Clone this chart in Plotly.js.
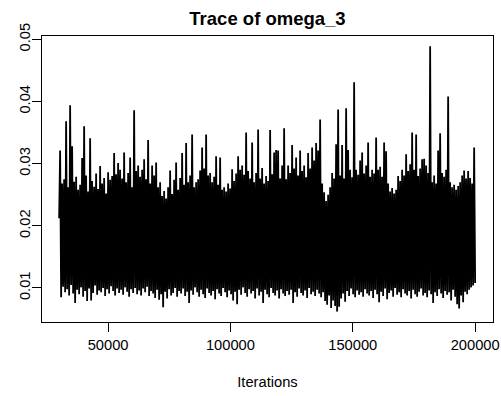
<!DOCTYPE html>
<html>
<head>
<meta charset="utf-8">
<script src="https://cdn.plot.ly/plotly-3.0.1.min.js"></script>
<style>html,body{margin:0;padding:0;background:#fff;}#chart{width:501px;height:396px;}</style>
</head>
<body>
<div id="chart"></div>
<script>
// MCMC trace of omega_3, samples (upper / lower excursions in order)
const chartTitle = "Trace of omega_3";
const xAxisTitle = "Iterations";
const iterStart = 30000;
const iterEnd = 200000;
const xTickVals = [50000, 100000, 150000, 200000];
const xTickText = ["50000", "100000", "150000", "200000"];
const yTickVals = [0.01, 0.02, 0.03, 0.04, 0.05];
const yTickText = ["0.01", "0.02", "0.03", "0.04", "0.05"];

const omega3 = [0.0212,
0.0321,0.0085, 0.0268,0.0102, 0.0275,0.0093, 0.0368,0.0098, 0.0262,0.0088, 0.0394,0.0105, 0.0328,0.0091, 0.0271,0.0076, 0.0279,0.0097, 0.0258,0.0090,
0.0266,0.0101, 0.0309,0.0086, 0.0360,0.0095, 0.0281,0.0079, 0.0255,0.0099, 0.0341,0.0080, 0.0272,0.0092, 0.0263,0.0104, 0.0284,0.0089, 0.0259,0.0096,
0.0296,0.0093, 0.0268,0.0100, 0.0277,0.0087, 0.0252,0.0098, 0.0286,0.0091, 0.0274,0.0103, 0.0280,0.0095, 0.0317,0.0088, 0.0283,0.0099, 0.0301,0.0092,
0.0290,0.0097, 0.0276,0.0089, 0.0318,0.0101, 0.0270,0.0094, 0.0285,0.0086, 0.0310,0.0098, 0.0262,0.0092, 0.0386,0.0100, 0.0288,0.0090, 0.0297,0.0096,
0.0279,0.0088, 0.0290,0.0099, 0.0307,0.0093, 0.0275,0.0102, 0.0338,0.0087, 0.0268,0.0095, 0.0297,0.0091, 0.0281,0.0084, 0.0302,0.0097, 0.0262,0.0081,
0.0270,0.0090, 0.0248,0.0069, 0.0256,0.0094, 0.0244,0.0083, 0.0262,0.0098, 0.0289,0.0088, 0.0251,0.0092, 0.0274,0.0100, 0.0302,0.0086, 0.0258,0.0095,
0.0277,0.0091, 0.0317,0.0099, 0.0266,0.0087, 0.0333,0.0094, 0.0270,0.0076, 0.0281,0.0096, 0.0347,0.0089, 0.0262,0.0101, 0.0270,0.0093, 0.0275,0.0086,
0.0289,0.0097, 0.0326,0.0090, 0.0292,0.0084, 0.0347,0.0099, 0.0281,0.0092, 0.0285,0.0088, 0.0270,0.0095, 0.0279,0.0082, 0.0312,0.0098, 0.0266,0.0091,
0.0310,0.0087, 0.0258,0.0100, 0.0262,0.0093, 0.0255,0.0085, 0.0268,0.0096, 0.0260,0.0090, 0.0291,0.0080, 0.0272,0.0094, 0.0284,0.0074, 0.0312,0.0097,
0.0290,0.0089, 0.0297,0.0101, 0.0282,0.0092, 0.0350,0.0086, 0.0288,0.0098, 0.0276,0.0091, 0.0334,0.0095, 0.0270,0.0083, 0.0285,0.0099, 0.0355,0.0088,
0.0276,0.0094, 0.0293,0.0076, 0.0268,0.0097, 0.0280,0.0090, 0.0272,0.0085, 0.0354,0.0100, 0.0283,0.0092, 0.0318,0.0088, 0.0322,0.0096, 0.0321,0.0083,
0.0276,0.0098, 0.0297,0.0091, 0.0357,0.0087, 0.0275,0.0095, 0.0297,0.0089, 0.0285,0.0097, 0.0330,0.0076, 0.0292,0.0093, 0.0310,0.0086, 0.0281,0.0099,
0.0321,0.0092, 0.0288,0.0088, 0.0297,0.0096, 0.0278,0.0084, 0.0317,0.0100, 0.0292,0.0090, 0.0326,0.0094, 0.0305,0.0087, 0.0333,0.0097, 0.0321,0.0091,
0.0371,0.0085, 0.0268,0.0093, 0.0254,0.0079, 0.0240,0.0073, 0.0250,0.0088, 0.0262,0.0068, 0.0285,0.0080, 0.0276,0.0071, 0.0331,0.0062, 0.0387,0.0070,
0.0281,0.0083, 0.0330,0.0091, 0.0276,0.0078, 0.0389,0.0095, 0.0322,0.0087, 0.0290,0.0099, 0.0278,0.0090, 0.0431,0.0085, 0.0290,0.0096, 0.0282,0.0089,
0.0305,0.0093, 0.0318,0.0086, 0.0284,0.0098, 0.0297,0.0091, 0.0334,0.0088, 0.0279,0.0095, 0.0290,0.0084, 0.0284,0.0097, 0.0342,0.0090, 0.0290,0.0077,
0.0295,0.0094, 0.0279,0.0087, 0.0334,0.0099, 0.0320,0.0082, 0.0268,0.0092, 0.0255,0.0096, 0.0261,0.0086, 0.0252,0.0100, 0.0258,0.0089, 0.0280,0.0093,
0.0272,0.0085, 0.0290,0.0098, 0.0281,0.0091, 0.0315,0.0088, 0.0288,0.0095, 0.0299,0.0083, 0.0350,0.0097, 0.0290,0.0090, 0.0347,0.0086, 0.0280,0.0094,
0.0292,0.0099, 0.0307,0.0088, 0.0308,0.0092, 0.0297,0.0085, 0.0285,0.0096, 0.0489,0.0090, 0.0270,0.0076, 0.0281,0.0093, 0.0268,0.0087, 0.0321,0.0098,
0.0349,0.0091, 0.0285,0.0084, 0.0279,0.0095, 0.0290,0.0089, 0.0408,0.0093, 0.0270,0.0080, 0.0262,0.0097, 0.0266,0.0086, 0.0258,0.0074, 0.0264,0.0067,
0.0270,0.0088, 0.0281,0.0077, 0.0289,0.0094, 0.0276,0.0090, 0.0288,0.0097, 0.0277,0.0101, 0.0268,0.0104, 0.0326,0.0108
];

const iterations = omega3.map((_, i) => iterStart + i * (iterEnd - iterStart) / (omega3.length - 1));

const font = "Liberation Sans, Arial, Helvetica, sans-serif";

Plotly.newPlot("chart", [{
  x: iterations,
  y: omega3,
  type: "scatter",
  mode: "lines",
  line: {color: "#000000", width: 1.8, simplify: false},
  hoverinfo: "skip"
}], {
  width: 501,
  height: 396,
  margin: {l: 42, r: 8, t: 36, b: 74},
  paper_bgcolor: "#ffffff",
  plot_bgcolor: "#ffffff",
  showlegend: false,
  font: {family: font, size: 14.7, color: "#000000"},
  title: {
    text: chartTitle,
    font: {family: font, size: 18.5, color: "#000000", weight: "bold"},
    x: 0.5, xref: "paper", xanchor: "center",
    y: 0.952, yref: "container", yanchor: "middle"
  },
  xaxis: {
    range: [23000, 207300],
    tickvals: xTickVals,
    ticktext: xTickText,
    ticks: "outside",
    ticklen: 9,
    tickwidth: 1,
    tickcolor: "#000000",
    showline: true,
    mirror: true,
    linecolor: "#000000",
    linewidth: 1,
    showgrid: false,
    zeroline: false,
    tickfont: {family: font, size: 14.7, color: "#000000"},
    title: {text: xAxisTitle, font: {family: font, size: 14.7, color: "#000000"}, standoff: 25}
  },
  yaxis: {
    range: [0.00453, 0.05053],
    tickvals: yTickVals,
    ticktext: yTickText,
    tickangle: -90,
    ticklabelstandoff: -4,
    ticks: "outside",
    ticklen: 9,
    tickwidth: 1,
    tickcolor: "#000000",
    showline: true,
    mirror: true,
    linecolor: "#000000",
    linewidth: 1,
    showgrid: false,
    zeroline: false,
    tickfont: {family: font, size: 14.7, color: "#000000"}
  }
}, {staticPlot: true, displayModeBar: false});
</script>
</body>
</html>
